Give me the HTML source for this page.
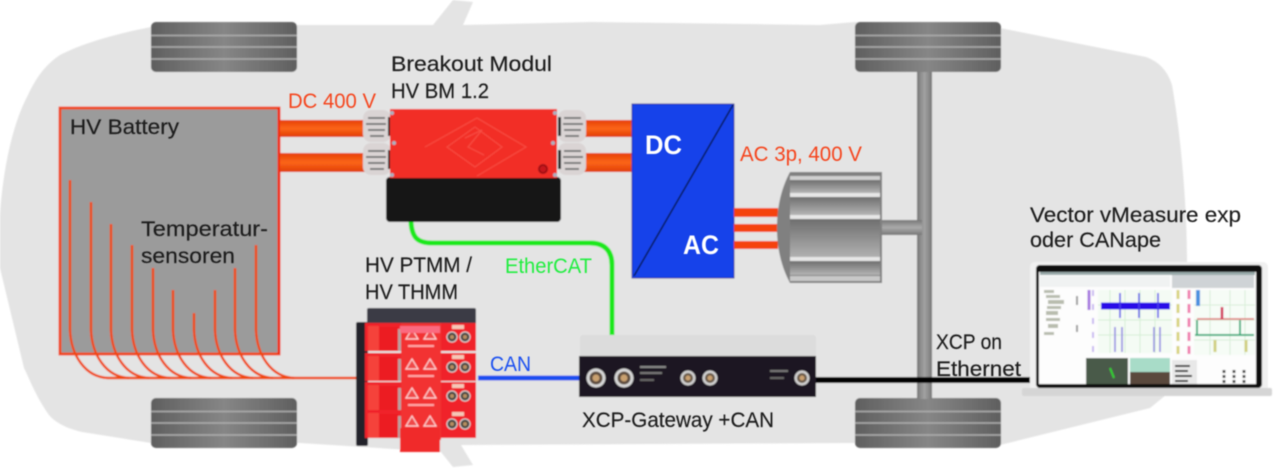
<!DOCTYPE html>
<html><head><meta charset="utf-8"><style>html,body{margin:0;padding:0;background:#fff;width:1280px;height:470px;overflow:hidden}svg{display:block}text{font-family:"Liberation Sans",sans-serif;font-size:21px;fill:#1c1c1c;stroke:#1c1c1c;stroke-width:.15px}text.c{stroke:none}</style></head><body>
<svg width="1280" height="470" viewBox="0 0 1280 470" xmlns="http://www.w3.org/2000/svg">
<defs>
<filter id="b" x="-5%" y="-5%" width="110%" height="110%"><feGaussianBlur stdDeviation="0.85"/></filter>
<filter id="t" x="-5%" y="-5%" width="110%" height="110%"><feGaussianBlur stdDeviation="0.5"/></filter>
<linearGradient id="tire" x1="0" x2="1" y1="0" y2="0"><stop offset="0" stop-color="#5f5f5f"/><stop offset=".5" stop-color="#868686"/><stop offset="1" stop-color="#5f5f5f"/></linearGradient>
<linearGradient id="cab" x1="0" x2="0" y1="0" y2="1"><stop offset="0" stop-color="#e63f06"/><stop offset=".5" stop-color="#fb6518"/><stop offset="1" stop-color="#e03c05"/></linearGradient>
<linearGradient id="rib" x1="0" x2="0" y1="0" y2="1"><stop offset="0" stop-color="#6e6e6e"/><stop offset="1" stop-color="#b4b4b4"/></linearGradient>
<linearGradient id="axle" x1="0" x2="1" y1="0" y2="0"><stop offset="0" stop-color="#777"/><stop offset=".5" stop-color="#a2a2a2"/><stop offset="1" stop-color="#777"/></linearGradient>
<linearGradient id="shaft" x1="0" x2="0" y1="0" y2="1"><stop offset="0" stop-color="#777"/><stop offset=".5" stop-color="#aaa"/><stop offset="1" stop-color="#777"/></linearGradient>
<g id="wheel"><rect width="146" height="50" rx="5" fill="url(#tire)"/><path d="M0 13.500H146M0 25H146M0 37H146" stroke="#aeaeae" stroke-width="1.500"/></g>
<g id="mod"><rect width="111" height="28" fill="#f0242a"/><rect x="3" y="3" width="11" height="25" fill="#f5423a"/><rect x="14" y="4" width="19" height="24" fill="#ec1c22"/><rect x="33" y="6" width="3" height="22" fill="#b8a0a0"/><rect x="36" y="0" width="40" height="30" fill="#f23032"/><path d="M41 16l6-10 6 10zM59 16l6-10 6 10z" fill="#ef4a48" stroke="#ffd8d8" stroke-width="1.200"/><rect x="43" y="22" width="26" height="2" fill="#ffa8a8"/><circle cx="87" cy="14" r="5" fill="#4a4440" stroke="#ddd"/><circle cx="100" cy="14" r="5" fill="#4a4440" stroke="#ddd"/><circle cx="87" cy="14" r="2" fill="#b89060"/><circle cx="100" cy="14" r="2" fill="#b89060"/><rect x="87" y="2" width="12" height="4" fill="#f5c8b8"/></g>
<g id="con"><circle r="7.500" fill="#cfcfcf"/><circle r="5" fill="#6b5a48"/><circle r="2.500" fill="#c9a070"/></g>
<g id="conL"><circle r="9.500" fill="#d6d6d6"/><circle r="6.500" fill="#5e4e40"/><circle r="3.500" fill="#c9a070"/></g>
<g id="gland"><rect width="28" height="32" rx="8" fill="#dad4d4"/><path d="M5 8H22M3 14H23M5 20H22M7 26H21" stroke="#6a6a6a" stroke-width="1.800"/><rect x="25" y="7" width="3" height="19" fill="#222"/></g>
</defs>
<g filter="url(#b)">
<path d="M0 268L0 215C3 170 12 125 28 95C36 78 45 65 60 55C85 42 120 33 151 27L300 25L433 25L453 0L473 2L463 25L592 22L820 25L855 22L1000 28L1146 57C1160 62 1168 72 1172 85C1180 130 1187 200 1187 262L1187 395L1166 395L1150 408L1000 445L851 443L461 445L473 465L453 467L441 452L300 443L151 443L82 432C65 428 55 422 49 415C35 395 30 380 24 368Z" fill="#e4e4e4"/>
<use href="#wheel" x="151" y="22"/><use href="#wheel" x="855" y="22"/><use href="#wheel" x="151" y="398"/><use href="#wheel" x="855" y="398"/>
<rect x="917" y="72" width="15" height="327" fill="url(#axle)"/>
<rect x="880" y="220" width="42" height="15" fill="url(#shaft)"/>

<rect x="60" y="108" width="219" height="246" fill="#9b9b9b" stroke="#f04a1a" stroke-width="3"/>
<path d="M279 108V354" stroke="#f02a10" stroke-width="3"/>
<g fill="none" stroke="#f04a10" stroke-width="2.500">
<path d="M70 180V330C71 355 85 377 108 378H360"/>
<path d="M91 202V330C92 355 106 377 129 378"/>
<path d="M111 224V330C112 355 126 377 149 378"/>
<path d="M132 245V330C133 355 147 377 170 378"/>
<path d="M153 268V330C154 355 168 377 191 378"/>
<path d="M173 290V330C174 355 188 377 211 378"/>
<path d="M194 313V330C195 355 209 377 232 378"/>
<path d="M215 290V330C216 355 230 377 253 378"/>
<path d="M235 268V330C236 355 250 377 273 378"/>
<path d="M256 245V330C257 355 271 377 294 378"/>
</g>

<rect x="280" y="120" width="85" height="17" fill="url(#cab)"/><rect x="280" y="153" width="85" height="19" fill="url(#cab)"/>
<rect x="583" y="120" width="49" height="17" fill="url(#cab)"/><rect x="583" y="153" width="49" height="19" fill="url(#cab)"/>
<use href="#gland" x="363" y="110"/><use href="#gland" x="363" y="143"/>
<use href="#gland" transform="translate(586 110) scale(-1 1)"/><use href="#gland" transform="translate(586 143) scale(-1 1)"/>
<path d="M411 222C412 238 418 243 432 243H590C604 243 612 250 612 265V338" fill="none" stroke="#1de81d" stroke-width="5"/>
<rect x="386" y="177" width="175" height="45" rx="4" fill="#121216"/>
<rect x="390" y="109" width="167" height="69" fill="#f22f28"/>
<g fill="none" stroke="#fa5f50" stroke-width="1" opacity=".7"><path d="M425 147L477 118L526 147L477 176"/><path d="M447 147L475 127L502 147L475 167Z"/><path d="M465 138L482 130L468 147L484 155"/></g>
<circle cx="543" cy="169" r="4" fill="#c8141c" stroke="#a01014" stroke-width="2"/>
<g fill="#aab0c0"><circle cx="392" cy="113" r="2"/><circle cx="555" cy="113" r="2"/><circle cx="394" cy="143" r="2"/><circle cx="553" cy="143" r="2"/><circle cx="392" cy="175" r="2"/><circle cx="555" cy="175" r="2"/></g>

<rect x="632" y="104" width="102" height="174" fill="#1242ea" stroke="#0c2b9a" stroke-width="1"/>
<path d="M733 105L634 276" stroke="#06123f" stroke-width="1.500"/>
<rect x="734" y="208" width="44" height="9" fill="#f5420f"/><rect x="734" y="224" width="44" height="8" fill="#f5420f"/><rect x="734" y="241" width="44" height="8" fill="#f5420f"/>
<path d="M790 172H882V283H790C782 268 777 250 777 228C777 205 782 187 790 172Z" fill="#808080"/>
<rect x="790" y="176" width="90" height="4" fill="#cfcfcf"/>
<rect x="790" y="180" width="90" height="13" fill="url(#rib)"/>
<rect x="790" y="193" width="90" height="4" fill="#e6e6e6"/><rect x="790" y="197" width="90" height="18" fill="url(#rib)"/>
<rect x="790" y="215" width="90" height="4" fill="#e6e6e6"/><rect x="790" y="219" width="90" height="40" fill="url(#rib)"/>
<rect x="790" y="257" width="90" height="4" fill="#e6e6e6"/><rect x="790" y="261" width="90" height="14" fill="url(#rib)"/>
<rect x="790" y="276" width="90" height="5" fill="#c8c8c8"/>

<path d="M478 378H582" stroke="#1a50f0" stroke-width="5"/>
<rect x="580" y="335" width="236" height="24" rx="3" fill="#dcdcdc"/>
<rect x="579" y="356" width="237" height="41" fill="#1a1420"/>
<use href="#conL" x="596" y="378"/><use href="#conL" x="624" y="378"/><use href="#con" x="688" y="378"/><use href="#con" x="710" y="378"/><use href="#con" x="802" y="378"/>
<rect x="640" y="366" width="26" height="2" fill="#888"/><rect x="640" y="372" width="22" height="2" fill="#777"/><rect x="640" y="379" width="14" height="2" fill="#666"/><rect x="770" y="370" width="18" height="2" fill="#777"/><rect x="770" y="377" width="14" height="2" fill="#666"/>
<path d="M816 380H1030" stroke="#000" stroke-width="6"/>

<rect x="356" y="322" width="12" height="124" rx="2" fill="#22222c"/>
<rect x="367" y="308" width="109" height="18" rx="2" fill="#3a3a44"/>
<use href="#mod" x="365" y="323"/><use href="#mod" x="365" y="353"/><use href="#mod" x="365" y="382"/><use href="#mod" x="365" y="410"/>
<rect x="400" y="326" width="40" height="7" fill="#fb6a80"/>
<rect x="400" y="428" width="40" height="24" fill="#f02a2c"/>

<rect x="1030" y="262" width="238" height="130" rx="5" fill="#f0f0f0"/>
<rect x="1022" y="388" width="250" height="8" rx="2" fill="#d5d5d5"/>
<rect x="1036" y="265" width="226" height="123" rx="4" fill="#0a0a0a"/>
<rect x="1039" y="272" width="217" height="112" fill="#fdfdfd"/>
<rect x="1040" y="272" width="215" height="3" fill="#9aa"/>
<rect x="1040" y="276" width="130" height="11" fill="#f0f2f2"/><rect x="1172" y="275" width="82" height="13" fill="#cfd3d6"/>
<g fill="#b8bcae"><rect x="1044" y="290" width="10" height="3"/><rect x="1046" y="295" width="14" height="3"/><rect x="1048" y="300" width="16" height="4"/><rect x="1047" y="306" width="14" height="3"/><rect x="1046" y="311" width="12" height="4"/><rect x="1046" y="318" width="14" height="3"/><rect x="1048" y="324" width="10" height="4"/><rect x="1044" y="332" width="10" height="3"/></g>
<path d="M1077 296V305M1077 325V332" stroke="#999" stroke-width="2"/>
<path d="M1089 290V310" stroke="#a878e0" stroke-width="3"/>
<path d="M1093 290V356" stroke="#c8b8f0" stroke-width="2" stroke-dasharray="6 8"/>
<rect x="1098" y="290" width="74" height="63" fill="#f4fbf4"/>
<g stroke="#d4eed4" stroke-width="1"><path d="M1098 305H1172M1098 320H1172M1098 335H1172M1110 290V353M1125 290V353M1140 290V353M1155 290V353"/></g>
<path d="M1101 306H1170" stroke="#2a10e8" stroke-width="7"/>
<path d="M1120 293V318M1139 293V318M1158 293V318" stroke="#4a40e8" stroke-width="1.500"/>
<path d="M1115 327V352M1122 327V352M1154 327V352M1160 327V352" stroke="#8a80e0" stroke-width="1.500"/>
<path d="M1178 290V354" stroke="#d8d480" stroke-width="3" stroke-dasharray="9 5"/><path d="M1189 290V354" stroke="#f080b0" stroke-width="3" stroke-dasharray="9 5"/>
<rect x="1194" y="290" width="61" height="65" fill="#f6fcf6"/>
<g stroke="#d8eed8" stroke-width="1"><path d="M1194 305H1255M1194 320H1255M1194 340H1255M1210 290V355M1230 290V355M1245 290V355"/></g>
<rect x="1196" y="290" width="4" height="16" fill="#4a90e0"/>
<path d="M1197 319H1254" stroke="#e07070" stroke-width="1.500"/><path d="M1222 307V319" stroke="#d02050" stroke-width="2.500"/>
<path d="M1195 335H1254M1197 320V335M1240 320V335" stroke="#40b080" stroke-width="2"/>
<path d="M1215 340V352M1246 340V352" stroke="#d0d080" stroke-width="3"/>
<rect x="1086" y="358" width="42" height="26" fill="#4a5a4a"/>
<path d="M1110 368L1114 378" stroke="#30d030" stroke-width="2"/>
<rect x="1130" y="358" width="40" height="14" fill="#a8dcc8"/><rect x="1130" y="372" width="40" height="12" fill="#5a4a3c"/>
<rect x="1172" y="360" width="25" height="24" fill="#e8e8e8"/><path d="M1175 366H1190M1175 371H1188M1175 376H1192M1175 381H1188" stroke="#222" stroke-width="2"/>
<path d="M1224 370V384M1234 370V384M1244 370V384" stroke="#444" stroke-width="3" stroke-dasharray="3 2"/>
</g>
<g filter="url(#t)">
<text x="391" y="71" textLength="161" lengthAdjust="spacingAndGlyphs">Breakout Modul</text>
<text x="391" y="98" textLength="98" lengthAdjust="spacingAndGlyphs">HV BM 1.2</text>
<text class="c" x="288" y="108" textLength="88" lengthAdjust="spacingAndGlyphs" style="fill:#f5451f">DC 400 V</text>
<text x="70" y="134" textLength="109" lengthAdjust="spacingAndGlyphs">HV Battery</text>
<text x="141" y="236" textLength="127" lengthAdjust="spacingAndGlyphs">Temperatur-</text>
<text x="141" y="263" textLength="94" lengthAdjust="spacingAndGlyphs">sensoren</text>
<text x="365" y="272" textLength="107" lengthAdjust="spacingAndGlyphs">HV PTMM /</text>
<text x="365" y="299" textLength="93" lengthAdjust="spacingAndGlyphs">HV THMM</text>
<text class="c" x="505" y="273" textLength="87" lengthAdjust="spacingAndGlyphs" style="fill:#20ee40">EtherCAT</text>
<text class="c" x="490" y="371" textLength="41" lengthAdjust="spacingAndGlyphs" style="fill:#1a50f0">CAN</text>
<text x="582" y="427" textLength="192" lengthAdjust="spacingAndGlyphs">XCP-Gateway +CAN</text>
<text class="c" x="645" y="154" textLength="37" lengthAdjust="spacingAndGlyphs" style="fill:#fff;font-size:27px;font-weight:bold">DC</text>
<text class="c" x="683" y="254" textLength="36" lengthAdjust="spacingAndGlyphs" style="fill:#fff;font-size:27px;font-weight:bold">AC</text>
<text class="c" x="740" y="161" textLength="122" lengthAdjust="spacingAndGlyphs" style="fill:#f5451f">AC 3p, 400 V</text>
<text x="1030" y="222" textLength="211" lengthAdjust="spacingAndGlyphs">Vector vMeasure exp</text>
<text x="1030" y="247" textLength="131" lengthAdjust="spacingAndGlyphs">oder CANape</text>
<text x="936" y="349" textLength="66" lengthAdjust="spacingAndGlyphs">XCP on</text>
<text x="936" y="376" textLength="85" lengthAdjust="spacingAndGlyphs">Ethernet</text>
</g>
</svg>
</body></html>
